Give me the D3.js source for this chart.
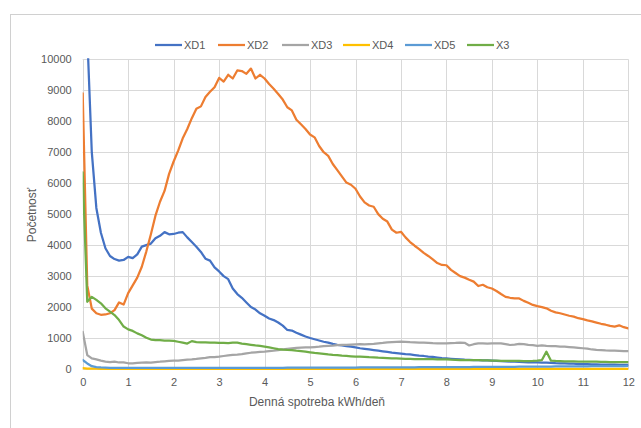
<!DOCTYPE html>
<html>
<head>
<meta charset="utf-8">
<script src="https://cdn.jsdelivr.net/npm/d3@7"></script>
<style>
  html, body { margin: 0; padding: 0; background: #ffffff; }
  svg { display: block; font-family: "Liberation Sans", Arial, sans-serif; }
</style>
</head>
<body>
<svg id="chart" width="641" height="428"></svg>
<script>
// ---------- data ----------
const kwh = d3.range(0, 121).map(i => +(i / 10).toFixed(1)); // 0.0 .. 12.0 step 0.1
const seriesNames = ["XD1", "XD2", "XD3", "XD4", "XD5", "X3"];
const seriesColors = ["#4472c4", "#ed7d31", "#a5a5a5", "#ffc000", "#5b9bd5", "#70ad47"];
const yTicks = [0, 1000, 2000, 3000, 4000, 5000, 6000, 7000, 8000, 9000, 10000];
const xTicks = [0, 1, 2, 3, 4, 5, 6, 7, 8, 9, 10, 11, 12];

const XD1 = [25000,10800,7000,5200,4400,3900,3650,3550,3500,3520,
  3620,3580,3700,3950,4000,4050,4220,4300,4420,4350,
  4360,4400,4420,4250,4100,3950,3780,3560,3500,3280,
  3150,3000,2900,2600,2420,2300,2150,2000,1920,1800,
  1720,1630,1580,1500,1400,1260,1240,1170,1110,1050,
  1000,960,920,880,850,810,780,760,740,720,
  700,670,650,630,610,590,570,550,530,515,
  500,480,470,450,430,420,400,390,370,350,
  340,330,320,310,300,295,290,285,280,275,
  270,262,255,250,240,235,230,225,215,210,
  210,205,205,200,190,185,180,175,170,160,
  160,155,150,150,145,145,140,140,135,130,130];

const XD2 = [8900,2700,1950,1800,1750,1760,1800,1900,2150,2080,
  2450,2700,2950,3300,3800,4350,4950,5400,5750,6300,
  6700,7050,7450,7750,8100,8400,8480,8780,8950,9100,
  9400,9280,9500,9380,9640,9620,9530,9700,9380,9500,
  9380,9200,9050,8880,8700,8450,8350,8050,7900,7750,
  7570,7480,7200,7000,6880,6620,6420,6220,6020,5950,
  5820,5570,5380,5280,5240,5000,4850,4760,4500,4400,
  4430,4250,4100,3980,3870,3750,3650,3540,3420,3360,
  3350,3200,3100,3000,2950,2880,2820,2680,2720,2640,
  2600,2520,2420,2330,2300,2280,2280,2200,2140,2070,
  2030,2000,1960,1880,1830,1800,1760,1720,1690,1640,
  1610,1570,1540,1500,1460,1430,1390,1370,1410,1350,1310];

const XD3 = [1200,450,340,310,270,240,225,240,210,215,
  185,185,195,205,210,205,225,235,250,260,
  270,270,290,300,310,325,345,360,380,385,
  400,420,440,455,465,480,505,525,540,550,
  560,575,590,610,630,650,665,680,690,695,
  700,710,720,735,745,755,770,775,780,790,
  795,800,795,805,815,830,840,860,870,875,
  880,875,865,860,855,850,845,835,830,830,
  830,835,840,850,845,760,800,830,825,820,
  830,830,825,800,775,790,810,805,780,770,
  750,760,745,740,735,725,720,710,700,685,
  670,655,630,615,610,600,595,590,585,580,580];

const XD4 = [30,15,10,10,8,8,8,8,8,8,
  8,8,8,8,8,8,8,8,8,8,
  8,8,8,8,8,8,8,8,8,8,
  8,8,8,8,8,8,8,8,8,8,
  8,8,8,8,8,8,8,8,8,8,
  8,8,8,8,8,8,8,8,8,8,
  8,8,8,8,8,8,8,8,8,8,
  8,8,8,8,8,8,8,8,8,8,
  8,8,8,8,8,8,8,8,8,8,
  8,8,8,8,8,8,8,8,8,8,
  8,8,8,8,8,8,8,8,8,8,
  8,8,8,8,8,8,8,8,8,8,8];

const XD5 = [290,180,90,60,50,45,40,40,38,38,
  36,36,35,35,35,35,34,34,34,34,
  34,34,34,34,34,35,35,35,35,35,
  36,36,36,36,37,37,37,38,38,38,
  39,39,40,40,40,41,41,42,42,43,
  43,44,44,45,45,46,46,47,47,48,
  48,49,49,50,50,51,52,52,53,54,
  54,55,56,56,57,58,58,59,60,60,
  61,62,62,63,64,64,65,66,67,67,
  68,69,70,70,71,72,73,74,75,76,
  77,78,79,80,81,82,83,84,85,86,
  87,88,89,90,91,92,93,94,95,96,97];

const X3 = [6350,2170,2330,2230,2120,1960,1850,1740,1580,1370,
  1280,1230,1150,1090,1010,950,935,930,915,915,
  910,880,850,820,900,870,860,860,850,850,
  840,845,835,850,850,820,800,780,760,745,
  725,700,670,640,625,615,610,590,575,560,
  540,520,505,490,470,455,445,430,420,410,
  400,400,390,380,375,365,360,355,345,340,
  335,330,325,320,320,320,315,315,310,310,
  310,300,295,290,290,290,285,285,280,275,
  270,270,265,265,260,260,260,255,255,260,
  270,290,560,270,260,255,250,250,245,240,
  240,235,235,235,230,230,225,225,225,225,225];

const seriesValues = [XD1, XD2, XD3, XD4, XD5, X3];

// ---------- layout ----------
const svg = d3.select("#chart");
const plot = { left: 82.7, right: 628.3, top: 59.3, bottom: 369 };
const textColor = "#595959";
const gridColor = "#d9d9d9";

// outer frame
svg.append("rect")
  .attr("x", 10.5).attr("y", 14.5)
  .attr("width", 700).attr("height", 500)
  .attr("fill", "#ffffff")
  .attr("stroke", "#d0d0d0").attr("stroke-width", 1);

const x = d3.scaleLinear().domain([0, 12]).range([plot.left, plot.right]);
const y = d3.scaleLinear().domain([0, 10000]).range([plot.bottom, plot.top]);

// gridlines
const grid = svg.append("g");
grid.selectAll("line.h").data(yTicks).enter().append("line")
  .attr("x1", plot.left).attr("x2", plot.right)
  .attr("y1", d => Math.round(y(d)) + 0.5).attr("y2", d => Math.round(y(d)) + 0.5)
  .attr("stroke", gridColor).attr("stroke-width", 1);
grid.selectAll("line.v").data(xTicks).enter().append("line")
  .attr("y1", plot.top).attr("y2", plot.bottom)
  .attr("x1", d => Math.round(x(d)) + 0.5).attr("x2", d => Math.round(x(d)) + 0.5)
  .attr("stroke", gridColor).attr("stroke-width", 1);

// axes (labels only)
const yAxis = svg.append("g")
  .attr("transform", `translate(${plot.left},0)`)
  .call(d3.axisLeft(y).tickValues(yTicks).tickSize(0).tickPadding(11).tickFormat(d3.format("d")));
yAxis.select(".domain").remove();
yAxis.selectAll("text").attr("fill", textColor).style("font-size", "11px")
  .style("font-family", "'Liberation Sans', Arial, sans-serif");

const xAxis = svg.append("g")
  .attr("transform", `translate(0,${plot.bottom})`)
  .call(d3.axisBottom(x).tickValues(xTicks).tickSize(0).tickPadding(9).tickFormat(d3.format("d")));
xAxis.select(".domain").remove();
xAxis.selectAll("text").attr("fill", textColor).style("font-size", "11px")
  .style("font-family", "'Liberation Sans', Arial, sans-serif");

// axis titles
svg.append("text")
  .attr("x", 317).attr("y", 406)
  .attr("text-anchor", "middle")
  .attr("fill", textColor)
  .style("font-size", "12px")
  .text("Denná spotreba kWh/deň");

svg.append("text")
  .attr("transform", "translate(36,215) rotate(-90)")
  .attr("text-anchor", "middle")
  .attr("fill", textColor)
  .style("font-size", "12px")
  .text("Početnosť");

// clip
svg.append("clipPath").attr("id", "plotClip")
  .append("rect")
  .attr("x", plot.left).attr("y", plot.top - 1)
  .attr("width", plot.right - plot.left).attr("height", plot.bottom - plot.top + 3);

// lines
const line = d3.line()
  .x((d, i) => x(kwh[i]))
  .y(d => y(d));

const linesG = svg.append("g").attr("clip-path", "url(#plotClip)");
// draw order: XD1, XD2, XD3, XD4, XD5, X3
seriesValues.forEach((vals, k) => {
  linesG.append("path")
    .datum(vals)
    .attr("fill", "none")
    .attr("stroke", seriesColors[k])
    .attr("stroke-width", 2.25)
    .attr("stroke-linejoin", "round")
    .attr("stroke-linecap", "round")
    .attr("d", line);
});

// legend
const legendX = [155, 218, 282, 343, 405, 467];
const legend = svg.append("g");
seriesNames.forEach((name, k) => {
  const g = legend.append("g").attr("transform", `translate(${legendX[k]},45)`);
  g.append("line").attr("x1", 0).attr("x2", 27).attr("y1", 0).attr("y2", 0)
    .attr("stroke", seriesColors[k]).attr("stroke-width", 2.25);
  g.append("text").attr("x", 29).attr("y", 4)
    .attr("fill", textColor).style("font-size", "11px").text(name);
});
</script>
</body>
</html>
